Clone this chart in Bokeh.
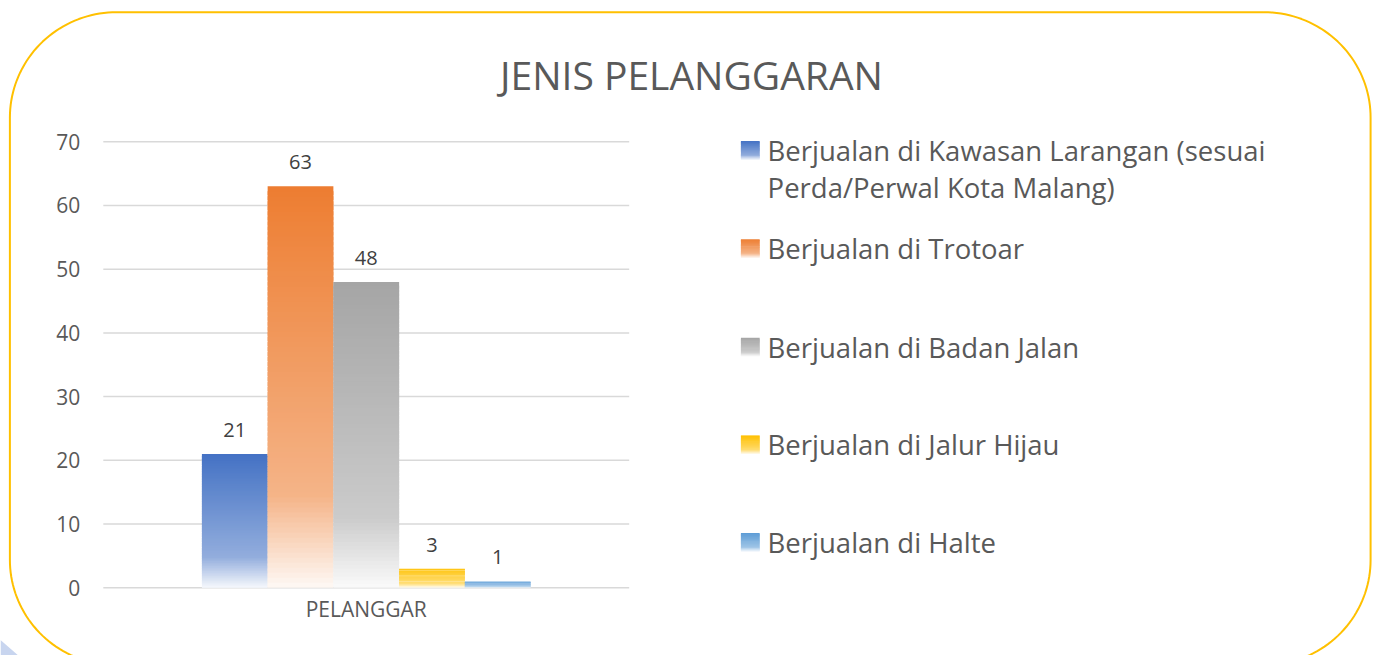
import numpy as np
from bokeh.plotting import figure
from bokeh.models import Range1d, FixedTicker
from bokeh.core.properties import value
from bokeh.embed import file_html
from bokeh.resources import INLINE

# ---------------- data ----------------
title_text = "JENIS PELANGGARAN"
categories = ["PELANGGAR"]
series_names = [
    "Berjualan di Kawasan Larangan (sesuai\nPerda/Perwal Kota Malang)",
    "Berjualan di Trotoar",
    "Berjualan di Badan Jalan",
    "Berjualan di Jalur Hijau",
    "Berjualan di Halte",
]
series_values = [21, 63, 48, 3, 1]
series_colors = ["#4472C4", "#ED7D31", "#A5A5A5", "#FFC000", "#5B9BD5"]
y_ticks = [0, 10, 20, 30, 40, 50, 60, 70]

# ---------------- layout ----------------
W, H = 1378, 655                # canvas size
RW, RH = 1394, 671              # design space (reference pixels)
sx, sy = W / RW, H / RH

# plot area in design pixels
area_left, area_right = 104, 636
y0_ref, ytop_ref = 601.7, 144.6
half = 4.0                      # half-width of the category slot (data units)

ppu_x = (area_right - area_left) * sx / (2 * half)
x_start = -half - area_left * sx / ppu_x
x_end = x_start + W / ppu_x
ppu_y = (y0_ref - ytop_ref) * sy / max(y_ticks)
y_end = max(y_ticks) + ytop_ref * sy / ppu_y
y_start = -(H - y0_ref * sy) / ppu_y

p = figure(width=W, height=H, output_backend="svg", toolbar_location=None,
           x_range=Range1d(x_start, x_end), y_range=Range1d(y_start, y_end),
           min_border=0, outline_line_color=None,
           background_fill_color="white", border_fill_color="white")
# design-pixel ranges for decorations (title, legend, frame border)
p.extra_x_ranges = {"px": Range1d(0, RW)}
p.extra_y_ranges = {"px": Range1d(RH, 0)}
p.xgrid.visible = False
p.ygrid.visible = False

FONT = "Open Sans"

# y axis drawn inside the frame
p.yaxis.fixed_location = -half
p.yaxis.ticker = FixedTicker(ticks=y_ticks)
p.yaxis.axis_line_color = None
p.yaxis.major_tick_line_color = None
p.yaxis.minor_tick_line_color = None
p.yaxis.major_tick_out = 0
p.yaxis.major_tick_in = 0
p.yaxis.minor_tick_out = 0
p.yaxis.major_label_standoff = 23
p.yaxis.major_label_text_font = FONT
p.yaxis.major_label_text_font_size = "21px"
p.yaxis.major_label_text_color = "#595959"

# x axis (category label)
p.xaxis.fixed_location = 0
p.xaxis.ticker = FixedTicker(ticks=[0])
p.xaxis.major_label_overrides = {0: categories[0]}
p.xaxis.axis_line_color = None
p.xaxis.major_tick_line_color = None
p.xaxis.minor_tick_line_color = None
p.xaxis.major_tick_out = 0
p.xaxis.major_tick_in = 0
p.xaxis.minor_tick_out = 0
p.xaxis.major_label_standoff = 7
p.xaxis.major_label_text_font = FONT
p.xaxis.major_label_text_font_size = "21px"
p.xaxis.major_label_text_color = "#595959"

# gridlines limited to the plot area
p.segment(x0=-half, x1=half, y0=y_ticks, y1=y_ticks, line_color="#d9d9d9", line_width=1.5)


def hex_rgb(h):
    h = h.lstrip("#")
    return tuple(int(h[i:i + 2], 16) for i in (0, 2, 4))


def shade(hexcol, t):
    w = float(np.interp(t, [0.0, 0.77, 1.0], [0.0, 0.42, 0.95]))
    r, g, b = hex_rgb(hexcol)
    return "#%02x%02x%02x" % tuple(int(round(c + (255 - c) * w)) for c in (r, g, b))


def gradient_slices(top, bottom, n):
    edges = np.linspace(top, bottom, n + 1)
    step = edges[0] - edges[1]
    tops = edges[:-1]
    bots = edges[1:] - 0.8 * step      # slight overlap, hidden by the next slice
    bots[-1] = bottom
    ts = (np.arange(n) + 0.5) / n
    return tops, bots, ts


n = len(series_values)
bar_x = np.arange(n) - (n - 1) / 2.0
N = 80
for xi, v, col in zip(bar_x, series_values, series_colors):
    tops, bots, ts = gradient_slices(v, 0, N)
    cols = [shade(col, t) for t in ts]
    p.quad(left=xi - 0.5, right=xi + 0.5, top=tops, bottom=bots,
           fill_color=cols, line_color=None)

# data labels
p.text(x=bar_x, y=series_values, text=[str(v) for v in series_values],
       text_align="center", text_baseline="middle", y_offset=-24,
       text_font=value(FONT), text_font_size="20px", text_color="#404040")

# title
p.text(x=[699], y=[75.5], text=[title_text], x_range_name="px", y_range_name="px",
       text_align="center", text_baseline="middle",
       text_font=value(FONT), text_font_size="39px", text_color="#595959")

# legend
leg_text_y = [172.5, 254, 355, 455, 555]
leg_sw_y = [153.5, 254, 355, 455, 555]
p.text(x=[776] * n, y=leg_text_y, text=series_names, x_range_name="px", y_range_name="px",
       text_align="left", text_baseline="middle", text_line_height=1.0,
       text_font=value(FONT), text_font_size="27.5px", text_color="#595959")
SN = 16
for cy, col in zip(leg_sw_y, series_colors):
    # design y grows downward: top of swatch is cy - 9.5
    edges = np.linspace(cy - 9.5, cy + 9.5, SN + 1)
    tops = edges[:-1]
    bots = edges[1:] + 0.6 * (edges[1] - edges[0])
    bots[-1] = edges[-1]
    ts = (np.arange(SN) + 0.5) / SN
    cols = [shade(col, t) for t in ts]
    p.quad(left=749, right=768, top=tops, bottom=bots, fill_color=cols, line_color=None,
           x_range_name="px", y_range_name="px")

# faint blue wedge at the bottom-left corner
p.patch(x=[0, 0, 18], y=[655, 671, 671], fill_color="#c8d5ef", line_color=None,
        x_range_name="px", y_range_name="px")


# rounded yellow border
def rounded_rect(l, t, r, b, rad, k=40):
    xs, ys = [], []
    corners = [((r - rad, t + rad), -90, 0), ((r - rad, b - rad), 0, 90),
               ((l + rad, b - rad), 90, 180), ((l + rad, t + rad), 180, 270)]
    for (cx, cy), a0, a1 in corners:
        a = np.radians(np.linspace(a0, a1, k))
        xs += list(cx + rad * np.cos(a))
        ys += list(cy + rad * np.sin(a))
    xs.append(xs[0])
    ys.append(ys[0])
    return xs, ys


bx, by = rounded_rect(9.5, 12, 1386, 681, 108)
p.line(bx, by, line_color="#FFC000", line_width=2, x_range_name="px", y_range_name="px")

open("out.html", "w").write(file_html(p, INLINE))
